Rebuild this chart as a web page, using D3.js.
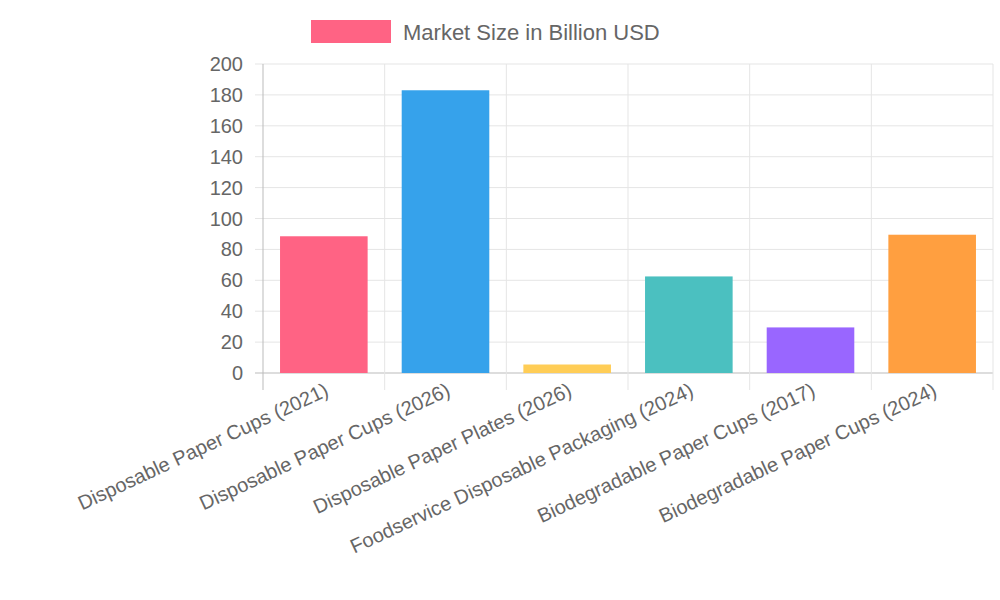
<!DOCTYPE html>
<html><head><meta charset="utf-8">
<script src="https://cdn.jsdelivr.net/npm/d3@7"></script>
<style>body{margin:0;background:#fff}text{font-family:"Liberation Sans",Arial,sans-serif;fill:#666}</style>
</head><body><svg width="1000" height="600"></svg>
<script>
const categories = ["Disposable Paper Cups (2021)", "Disposable Paper Cups (2026)", "Disposable Paper Plates (2026)",
  "Foodservice Disposable Packaging (2024)", "Biodegradable Paper Cups (2017)", "Biodegradable Paper Cups (2024)"];
const values = [88.5, 183, 5.5, 62.5, 29.5, 89.5];
const colors = ["#ff6384", "#36a2eb", "#ffcd56", "#4bc0c0", "#9966ff", "#ff9f40"];
const yTicks = [0, 20, 40, 60, 80, 100, 120, 140, 160, 180, 200];

const svg = d3.select("svg");
const mLeft = 263, mRight = 993, mTop = 64, mBottom = 373;
const x = d3.scaleBand().domain(categories).range([mLeft, mRight]);
const y = d3.scaleLinear().domain([0, 200]).range([mBottom, mTop]);
const bw = x.bandwidth() * 0.72;

// grid
svg.append("g").selectAll("line").data(yTicks).join("line")
  .attr("x1", mLeft - 8).attr("x2", mRight).attr("y1", d => y(d)).attr("y2", d => y(d))
  .attr("stroke", d => d === 0 ? "#bbb" : "#e5e5e5");
const bounds = categories.map(c => x(c)).concat([mRight]);
svg.append("g").selectAll("line").data(bounds).join("line")
  .attr("x1", d => d).attr("x2", d => d).attr("y1", mTop).attr("y2", mBottom + 17)
  .attr("stroke", (d, i) => i === 0 ? "#bbb" : "#e5e5e5");

// y labels
svg.append("g").selectAll("text").data(yTicks).join("text")
  .attr("x", mLeft - 20).attr("y", d => y(d)).attr("dy", "0.35em")
  .attr("text-anchor", "end").attr("font-size", 20).text(d => d);

// bars
svg.append("g").selectAll("rect").data(values).join("rect")
  .attr("x", (d, i) => x(categories[i]) + (x.bandwidth() - bw) / 2)
  .attr("width", bw).attr("y", d => y(d)).attr("height", d => mBottom - y(d))
  .attr("fill", (d, i) => colors[i]);

// x labels
svg.append("g").selectAll("text").data(categories).join("text")
  .attr("transform", d => `translate(${x(d) + x.bandwidth() / 2 + 6},${mBottom + 22}) rotate(-25)`)
  .attr("text-anchor", "end").attr("font-size", 20).text(d => d);

// legend
svg.append("rect").attr("x", 311).attr("y", 20).attr("width", 80).attr("height", 23).attr("fill", "#ff6384");
svg.append("text").attr("x", 403).attr("y", 32).attr("dy", "0.35em").attr("font-size", 22)
  .text("Market Size in Billion USD");
</script></body></html>
